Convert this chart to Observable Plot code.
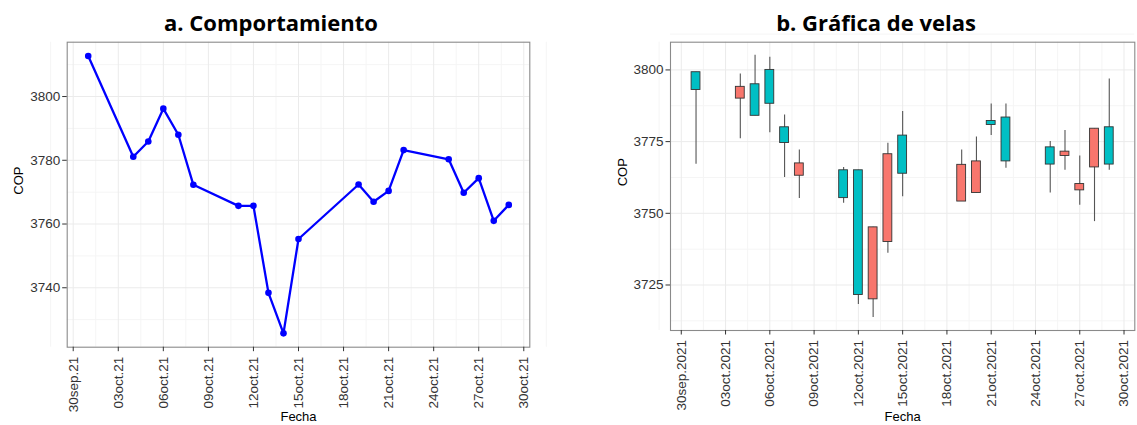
<!DOCTYPE html>
<html>
<head>
<meta charset="utf-8">
<script src="https://cdn.jsdelivr.net/npm/d3@7"></script>
<script src="https://cdn.jsdelivr.net/npm/@observablehq/plot@0.6"></script>
<style>
  html, body { margin: 0; padding: 0; background: #fff; }
  #wrap { position: relative; width: 1137px; height: 425px; background: #fff; overflow: hidden; }
  .title { position: absolute; top: 7px; font-family: "Open Sans", "Noto Sans", sans-serif; font-weight: 700; font-size: 22px; color: #000; white-space: nowrap; transform: translateX(-50%); }
  .panel { position: absolute; top: 0; }
</style>
</head>
<body>
<div id="wrap">
  <div class="title" style="left:271px">a. Comportamiento</div>
  <div class="title" style="left:876px">b. Gráfica de velas</div>
  <div class="panel" id="left" style="left:0px"></div>
  <div class="panel" id="right" style="left:580px"></div>
</div>
<script>
// ---- data ----
const fechas = ["2021-10-01","2021-10-04","2021-10-05","2021-10-06","2021-10-07","2021-10-08",
                "2021-10-11","2021-10-12","2021-10-13","2021-10-14","2021-10-15",
                "2021-10-19","2021-10-20","2021-10-21","2021-10-22",
                "2021-10-25","2021-10-26","2021-10-27","2021-10-28","2021-10-29"];
const cop = [3812.7, 3781.1, 3785.9, 3796.2, 3788.0, 3772.3,
             3765.7, 3765.7, 3738.4, 3725.7, 3755.3,
             3772.4, 3767.0, 3770.4, 3783.2,
             3780.3, 3769.8, 3774.4, 3761.0, 3766.0];
const apertura = [3793.0, 3794.1, 3784.0, 3788.2, 3774.5, 3767.4,
                  3755.3, 3721.5, 3745.1, 3770.6, 3763.8,
                  3766.9, 3768.1, 3780.8, 3768.1,
                  3767.0, 3771.5, 3760.2, 3779.5, 3767.0];
const cierre = [3799.2, 3790.0, 3795.0, 3800.0, 3780.0, 3763.1,
                3765.0, 3765.0, 3720.0, 3740.0, 3777.1,
                3754.1, 3757.1, 3782.2, 3783.4,
                3773.0, 3770.0, 3758.0, 3766.0, 3780.0];
const maximo = [3799.2, 3798.6, 3805.1, 3804.4, 3784.3, 3772.1,
                3766.0, 3765.0, 3745.1, 3774.4, 3785.5,
                3772.1, 3776.6, 3788.1, 3788.1,
                3775.0, 3778.9, 3770.0, 3779.5, 3796.8];
const minimo = [3767.1, 3776.0, 3784.0, 3778.1, 3762.5, 3755.2,
                3753.5, 3718.2, 3713.7, 3736.1, 3755.8,
                3754.1, 3757.1, 3777.1, 3765.7,
                3757.1, 3765.0, 3752.8, 3747.1, 3765.0];
const tickFechas = ["2021-09-30","2021-10-03","2021-10-06","2021-10-09","2021-10-12","2021-10-15",
                    "2021-10-18","2021-10-21","2021-10-24","2021-10-27","2021-10-30"];
const tickLabelsA = ["30sep.21","03oct.21","06oct.21","09oct.21","12oct.21","15oct.21",
                     "18oct.21","21oct.21","24oct.21","27oct.21","30oct.21"];
const tickLabelsB = ["30sep.2021","03oct.2021","06oct.2021","09oct.2021","12oct.2021","15oct.2021",
                     "18oct.2021","21oct.2021","24oct.2021","27oct.2021","30oct.2021"];
const yTicksA = [3740, 3760, 3780, 3800];
const yTicksB = [3725, 3750, 3775, 3800];

// ---- helpers ----
const DAY = 864e5;
const parse = s => new Date(s + "T00:00:00Z");
const serie = fechas.map((f, i) => ({fecha: parse(f), cop: cop[i]}));
const velas = fechas.map((f, i) => ({fecha: parse(f), open: apertura[i], close: cierre[i], high: maximo[i], low: minimo[i],
                                    dir: cierre[i] >= apertura[i] ? "sube" : "baja"}));
const tDates = tickFechas.map(parse);
const fmt = labels => d => { const i = tDates.findIndex(t => +t === +d); return i >= 0 ? labels[i] : ""; };
const expand = ([a, b], f = 0.05) => [a - (b - a) * f, b + (b - a) * f];
const minorsBetween = (arr) => { const step = arr[1] - arr[0]; const out = [arr[0] - step / 2]; arr.forEach(v => out.push(v + step / 2)); return out; };

const font = "'Liberation Sans', Arial, sans-serif";
const majorCol = "#ebebeb", minorCol = "#f5f5f5";
const xMinor = [...tDates.map(d => new Date(+d - 1.5 * DAY)), new Date(+tDates[tDates.length - 1] + 1.5 * DAY)];
const plain = d => String(d);

// ---- left: line chart ----
{
  const xd = expand(d3.extent(serie, d => +d.fecha)).map(v => new Date(v));
  const yd = expand(d3.extent(cop));
  const yMinor = minorsBetween(yTicksA);
  const chart = Plot.plot({
    width: 545, height: 425,
    marginLeft: 66.7, marginRight: 15.7, marginTop: 41.7, marginBottom: 78.3,
    style: {fontFamily: font, fontSize: "13.5px", color: "#333", background: "transparent", overflow: "visible"},
    x: {type: "utc", domain: xd},
    y: {domain: yd},
    marks: [
      Plot.gridX(xMinor, {stroke: minorCol, strokeOpacity: 1, strokeWidth: 1}),
      Plot.gridY(yMinor, {stroke: minorCol, strokeOpacity: 1, strokeWidth: 1}),
      Plot.gridX(tDates, {stroke: majorCol, strokeOpacity: 1, strokeWidth: 1}),
      Plot.gridY(yTicksA, {stroke: majorCol, strokeOpacity: 1, strokeWidth: 1}),
      Plot.frame({stroke: "#8a8a8a", strokeWidth: 1.1}),
      Plot.axisY({ticks: yTicksA, tickFormat: plain, tickSize: 4.5, tickPadding: 2.5, stroke: "#333", fontSize: 13.5,
                  label: null}),
      Plot.axisX({ticks: tDates, tickFormat: fmt(tickLabelsA), tickRotate: -90, tickSize: 4.5, tickPadding: 5, stroke: "#333", fontSize: 13.5,
                  label: null}),
      Plot.text(["COP"], {frameAnchor: "left", dx: -48, rotate: -90, fontSize: 13, fill: "#000"}),
      Plot.text(["Fecha"], {frameAnchor: "bottom", dy: 73.3, fontSize: 13, fill: "#000"}),
      Plot.line(serie, {x: "fecha", y: "cop", stroke: "#0000ff", strokeWidth: 2.3}),
      Plot.dot(serie, {x: "fecha", y: "cop", fill: "#0000ff", r: 3.3})
    ]
  });
  document.getElementById("left").append(chart);
}

// ---- right: candlestick ----
{
  const half = 0.3 * DAY;
  const xd = expand([+velas[0].fecha - half, +velas[velas.length - 1].fecha + half]).map(v => new Date(v));
  const yd = expand([d3.min(minimo), d3.max(maximo)]);
  const yMinor = minorsBetween(yTicksB);
  const chart = Plot.plot({
    width: 557, height: 425,
    marginLeft: 90, marginRight: 2.7, marginTop: 41.7, marginBottom: 95,
    style: {fontFamily: font, fontSize: "13.5px", color: "#333", background: "transparent", overflow: "visible"},
    x: {type: "utc", domain: xd},
    y: {domain: yd},
    color: {domain: ["baja", "sube"], range: ["#F8766D", "#00BFC4"]},
    marks: [
      Plot.gridX(xMinor, {stroke: minorCol, strokeOpacity: 1, strokeWidth: 1}),
      Plot.gridY(yMinor, {stroke: minorCol, strokeOpacity: 1, strokeWidth: 1}),
      Plot.gridX(tDates, {stroke: majorCol, strokeOpacity: 1, strokeWidth: 1}),
      Plot.gridY(yTicksB, {stroke: majorCol, strokeOpacity: 1, strokeWidth: 1}),
      Plot.frame({stroke: "#8a8a8a", strokeWidth: 1.1}),
      Plot.axisY({ticks: yTicksB, tickFormat: plain, tickSize: 4.5, tickPadding: 2.5, stroke: "#333", fontSize: 13.5,
                  label: null}),
      Plot.axisX({ticks: tDates, tickFormat: fmt(tickLabelsB), tickRotate: -90, tickSize: 4.5, tickPadding: 5, stroke: "#333", fontSize: 13.5,
                  label: null}),
      Plot.text(["COP"], {frameAnchor: "left", dx: -48, rotate: -90, fontSize: 13, fill: "#000"}),
      Plot.text(["Fecha"], {frameAnchor: "bottom", dy: 90, fontSize: 13, fill: "#000"}),
      Plot.ruleX(velas, {x: "fecha", y1: "low", y2: "high", stroke: "#555", strokeWidth: 1.1}),
      Plot.rect(velas, {x1: d => new Date(+d.fecha - half), x2: d => new Date(+d.fecha + half),
                        y1: "open", y2: "close", fill: "dir", stroke: "#333", strokeWidth: 0.9})
    ]
  });
  document.getElementById("right").append(chart);
}
</script>
</body>
</html>
